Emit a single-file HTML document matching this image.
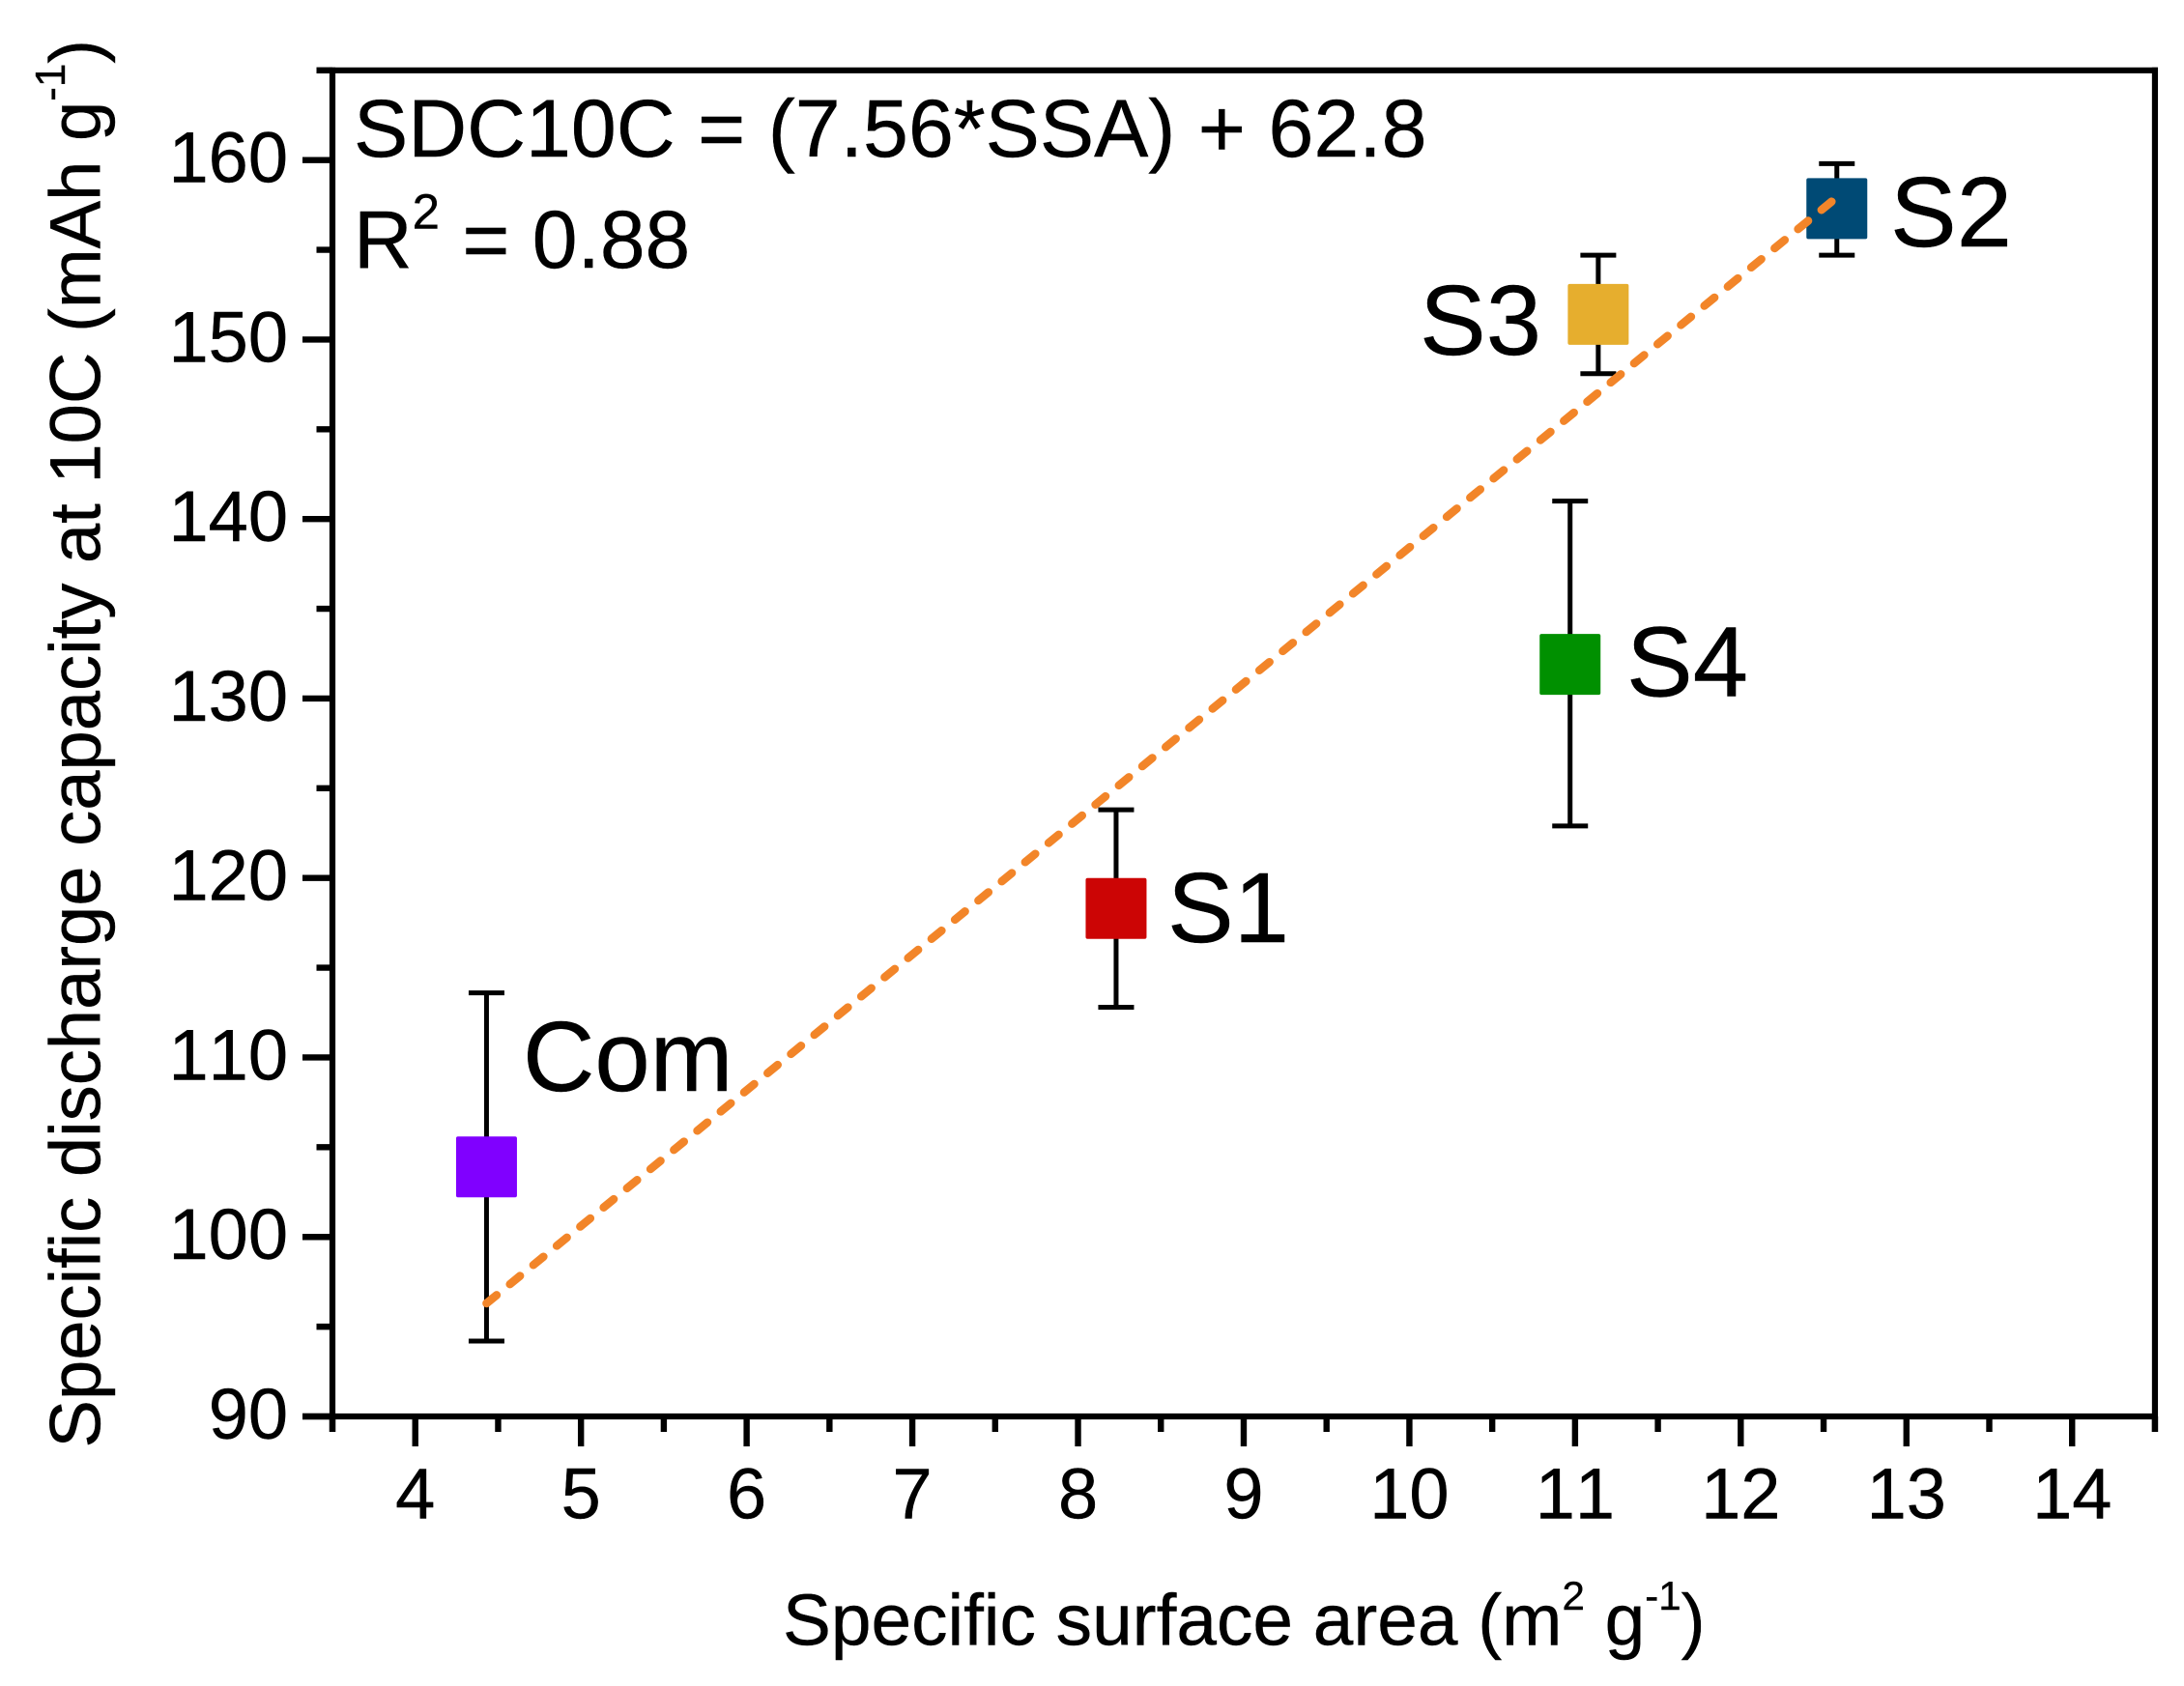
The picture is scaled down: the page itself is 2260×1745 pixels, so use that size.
<!DOCTYPE html>
<html lang="en">
<head>
<meta charset="utf-8">
<title>Specific discharge capacity vs specific surface area</title>
<style>
html,body{margin:0;padding:0;background:#fff;}
svg{display:block;}
text{font-family:"Liberation Sans",Arial,sans-serif;fill:#000;font-kerning:none;stroke:#000;stroke-width:0.4px;}
</style>
</head>
<body>
<svg id="chart" xmlns="http://www.w3.org/2000/svg" width="2260" height="1745" viewBox="0 0 2260 1745">
  <rect x="0" y="0" width="2260" height="1745" fill="#ffffff"/>
  <g id="axes"></g>
  <g id="errors"></g>
  <g id="markers"></g>
  <g id="fit"></g>
  <text x="366" y="162" font-size="84.3">SDC10C = (7.56*SSA) + 62.8</text>
  <text x="366" y="277" font-size="84">R<tspan font-size="51" dy="-40.5">2</tspan><tspan dy="40.5"> = 0.88</tspan></text>
  <text x="541" y="1129" font-size="103">Com</text>
  <text x="1208" y="975" font-size="103">S1</text>
  <text x="1956" y="255" font-size="103">S2</text>
  <text x="1469" y="367" font-size="103">S3</text>
  <text x="1683" y="720.5" font-size="103">S4</text>
  <text x="810" y="1702.5" font-size="74.8">Specific surface area (m<tspan font-size="42" dy="-36.5">2</tspan><tspan dy="36.5"> g</tspan><tspan font-size="42" dy="-36.5">-1</tspan><tspan dy="36.5">)</tspan></text>
  <text transform="translate(103.5,1498.5) rotate(-90)" x="0" y="0" font-size="74.2">Specific discharge capacity at 10C (mAh g<tspan font-size="44" dy="-36.5">-1</tspan><tspan dy="36.5">)</tspan></text>
</svg>
<script>
var xTickValues = [4, 5, 6, 7, 8, 9, 10, 11, 12, 13, 14];
var xMinorValues = [3.5, 4.5, 5.5, 6.5, 7.5, 8.5, 9.5, 10.5, 11.5, 12.5, 13.5, 14.5];
var yTickValues = [90, 100, 110, 120, 130, 140, 150, 160];
var yMinorValues = [95, 105, 115, 125, 135, 145, 155, 165];

var samples = ['Com', 'S1', 'S2', 'S3', 'S4'];
var ssaValues = [4.43, 8.23, 12.58, 11.14, 10.97];
var capacityValues = [103.9, 118.3, 157.3, 151.4, 131.9];
var errorUpper = [113.6, 123.8, 159.8, 154.7, 141.0];
var errorLower = [94.2, 112.8, 154.7, 148.1, 122.9];
var sampleColors = ['#8000ff', '#cc0505', '#004a75', '#e6ae2e', '#009000'];

var fitX = [4.43, 12.55];
var fitY = [96.3, 157.7];

var NS = 'http://www.w3.org/2000/svg';
function xPos(v) { return 344 + (v - 3.5) * 171.45; }
function yPos(v) { return 1466 - (v - 90) * 18.576; }

function make(tag, attrs, parent) {
  var el = document.createElementNS(NS, tag);
  for (var k in attrs) { el.setAttribute(k, attrs[k]); }
  parent.appendChild(el);
  return el;
}
function seg(x1, y1, x2, y2, w, color, parent) {
  return make('line', {x1: x1, y1: y1, x2: x2, y2: y2, stroke: color, 'stroke-width': w}, parent);
}

var axes = document.getElementById('axes');
var errors = document.getElementById('errors');
var markers = document.getElementById('markers');
var fit = document.getElementById('fit');

var line;
line = seg(xPos(3.5), yPos(165) - 3, xPos(3.5), 1482, 6.2, '#000', axes);


line = seg(313, yPos(90), xPos(14.5) + 3, yPos(90), 6.2, '#000', axes);


line = seg(327.5, yPos(165), xPos(14.5) + 3, yPos(165), 6.2, '#000', axes);


line = seg(xPos(14.5), yPos(165) - 3, xPos(14.5), 1482, 6.2, '#000', axes);



xTickValues.forEach(function (v) {
  var t = seg(xPos(v), yPos(90), xPos(v), 1497, 6.4, '#000', axes);
  
  
  var lab = make('text', {x: xPos(v), y: 1571.5, 'font-size': 74, 'text-anchor': 'middle'}, axes);
  lab.textContent = String(v);
  
  
});
xMinorValues.forEach(function (v) {
  var t = seg(xPos(v), yPos(90), xPos(v), 1482, 6.4, '#000', axes);
  
  
});
yTickValues.forEach(function (v) {
  var t = seg(313, yPos(v), xPos(3.5), yPos(v), 6.4, '#000', axes);
  
  
  var lab = make('text', {x: 298, y: yPos(v) + 23, 'font-size': 74, 'text-anchor': 'end'}, axes);
  lab.textContent = String(v);
  
  
});
yMinorValues.forEach(function (v) {
  var t = seg(327.5, yPos(v), xPos(3.5), yPos(v), 6.4, '#000', axes);
  
  
});

samples.forEach(function (name, i) {
  var cx = xPos(ssaValues[i]);
  var slug = name.toLowerCase();
  var bar = seg(cx, yPos(errorUpper[i]), cx, yPos(errorLower[i]), 5, '#000', errors);
  
  
  var capTop = seg(cx - 18.5, yPos(errorUpper[i]), cx + 18.5, yPos(errorUpper[i]), 5, '#000', errors);
  
  
  var capBottom = seg(cx - 18.5, yPos(errorLower[i]), cx + 18.5, yPos(errorLower[i]), 5, '#000', errors);
  
  
  var box = make('rect', {x: cx - 31.5, y: yPos(capacityValues[i]) - 31.5, width: 63, height: 63, rx: 2, ry: 2, fill: sampleColors[i]}, markers);
  
  
});

var fitLine = make('line', {
  x1: xPos(fitX[0]), y1: yPos(fitY[0]),
  x2: xPos(fitX[1]), y2: yPos(fitY[1]),
  stroke: '#f28529', 'stroke-width': 8.5,
  'stroke-linecap': 'round', 'stroke-dasharray': '13.5 17.83'
}, fit);


</script>
</body>
</html>
